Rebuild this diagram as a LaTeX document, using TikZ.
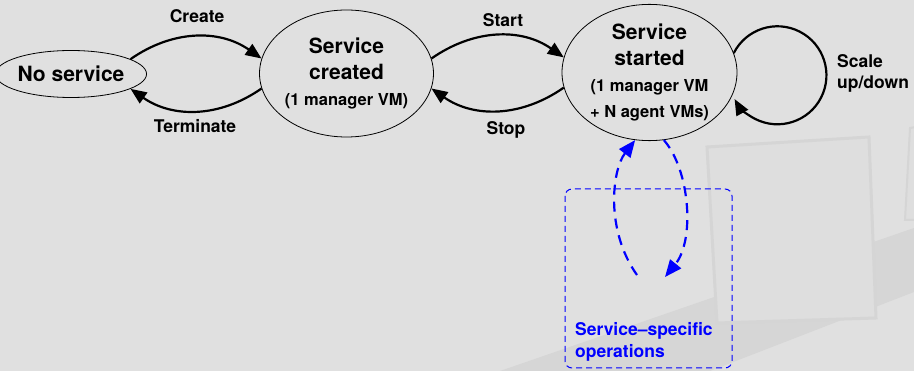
\documentclass[tikz,border=0pt]{standalone}
\usepackage{fontspec}
\setmainfont{TeX Gyre Heros}
\usetikzlibrary{shapes.geometric, arrows.meta}

\definecolor{bggray}{RGB}{224,224,224}
\definecolor{bandgray}{RGB}{214,214,214}
\definecolor{sqfill}{RGB}{222,222,222}
\definecolor{sqline}{RGB}{213,213,213}

\begin{document}
\begin{tikzpicture}[x=1pt, y=1pt,
    state/.style={draw, ellipse, line width=0.8pt, inner sep=0pt, align=center,
                  font=\bfseries\fontsize{21}{25.7}\selectfont},
    trans/.style={line width=2.2pt, -{Triangle[length=16pt,width=13pt]}},
    lbl/.style={font=\bfseries\fontsize{17.5}{21}\selectfont},
    opsarrow/.style={blue, line width=2.2pt, dash pattern=on 10pt off 7pt,
                     -{Triangle[length=17pt,width=14pt]}}]
    % background
    \fill[bggray] (0,0) rectangle (914,-371);
    \useasboundingbox (0,0) rectangle (914,-371);
    \fill[bandgray] (500,-371) -- (914,-228) -- (914,-292) -- (710,-371) -- cycle;
    \draw[sqline, fill=sqfill, line width=3pt] (707,-147) -- (869,-137) -- (876,-318) -- (717,-323) -- cycle;
    \draw[sqline, fill=sqfill, line width=2pt] (910,-128) -- (916,-127) -- (916,-220) -- (905,-220) -- cycle;

    % states
    \node[state, minimum width=127pt, minimum height=47pt] (nos) at (71,-74) {No service};
    \node[state, minimum width=171pt, minimum height=127pt] (created) at (346.5,-73.5)
        {Service\\created\\{\fontsize{16.5}{25.7}\selectfont (1 manager VM)}};
    \node[state, minimum width=175pt, minimum height=135pt] (started) at (649.5,-72.5)
        {Service\\started\\{\fontsize{16.5}{25.7}\selectfont (1 manager VM}\\{\fontsize{16.5}{25.7}\selectfont + N agent VMs)}};

    % transitions
    \draw[trans] (nos.14) to[out=35, in=145] (created.170);
    \draw[trans] (created.190) to[out=215, in=-35] (nos.-14);
    \draw[trans] (created.10) to[out=35, in=145] (started.170);
    \draw[trans] (started.190) to[out=215, in=-35] (created.-10);
    \draw[trans] (started.13) arc[start angle=153, end angle=-151, radius=49];

    \node[lbl] (create) at (197,-16) {Create};
    \node[lbl] (terminate) at (195,-126) {Terminate};
    \node[lbl] (start) at (503,-20) {Start};
    \node[lbl] (stop) at (506,-130) {Stop};
    \node[lbl, anchor=north west, align=left, inner sep=0pt] (scale) at (837,-54) {Scale\\up/down};

    % service-specific operations
    \draw[blue, line width=1pt, dash pattern=on 6pt off 4pt, rounded corners=7pt] (565,-189) rectangle (732,-368);
    \coordinate (opsA) at (637,-275);
    \coordinate (opsB) at (665,-277);
    \draw[opsarrow] (opsA) .. controls (605,-230) and (612,-170) .. (started.-102);
    \draw[opsarrow] (started.-78) .. controls (690,-170) and (695,-240) .. (opsB);
    \node[lbl, blue, anchor=north west, align=left, inner sep=0pt, font=\bfseries\fontsize{17.5}{22}\selectfont]
        (opstext) at (575,-322) {Service--specific\\operations};
\end{tikzpicture}
\end{document}
